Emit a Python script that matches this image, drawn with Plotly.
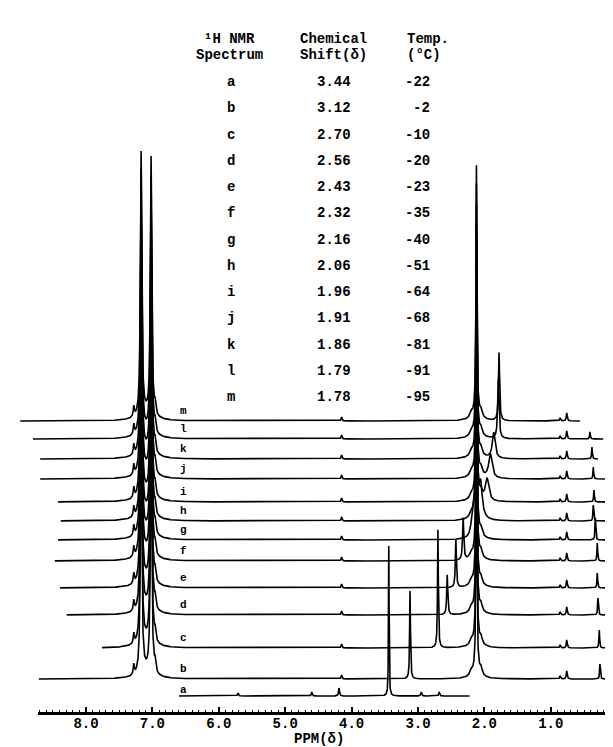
import numpy as np
import plotly.graph_objects as go

# ---------------- data ----------------
spectrum_labels = ['a', 'b', 'c', 'd', 'e', 'f', 'g', 'h', 'i', 'j', 'k', 'l', 'm']
chem_shift = [3.44, 3.12, 2.70, 2.56, 2.43, 2.32, 2.16, 2.06, 1.96, 1.91, 1.86, 1.79, 1.78]
temps_c = [-22, -2, -10, -20, -23, -35, -40, -51, -64, -68, -81, -91, -95]

# compound peak height (arbitrary units) and half width (ppm) per spectrum
shift_peak_height = [150, 88, 118, 40, 48, 42, 30, 28, 22, 24, 26, 60, 68]
shift_peak_hw = [0.005, 0.007, 0.007, 0.009, 0.009, 0.01, 0.02, 0.03, 0.03, 0.03, 0.025, 0.012, 0.01]

# recorded ppm window of each spectrum
ppm_start = [6.60, 8.71, 7.76, 8.29, 8.39, 8.47, 8.42, 8.38, 8.42, 8.69, 8.69, 8.80, 8.99]
ppm_end = [2.22, 0.15, -0.06, -0.06, -0.06, -0.06, -0.06, -0.06, -0.06, 0.18, 0.29, 0.21, 0.56]

# solvent lines (present in spectra b-m)
solvent_ppm = [7.28, 7.17, 7.02, 6.96, 7.10, 2.20, 2.12, 2.12, 2.05]
solvent_height = [10, 263, 258, 10, 7, 5, 246, 9, 6]
solvent_hw = [0.01, 0.012, 0.012, 0.012, 0.12, 0.02, 0.008, 0.07, 0.02]

# small impurity lines in spectra b-m
minor_ppm = [4.15, 0.86, 0.76]
minor_height = [4, 3, 8]
impurity_ppm = [0.0, 0.26, 0.27, 0.29, 0.30, 0.30, 0.33, 0.36, 0.35, 0.36, 0.38, 0.41, 0.40]
impurity_height = [0, 15, 18, 17, 15, 18, 22, 16, 12, 12, 12, 7, 0]

# extra small lines of spectrum a
a_minor_ppm = [5.71, 4.60, 4.19, 2.95, 2.68]
a_minor_height = [3, 4, 8, 4, 4]

# ---------------- styling / layout constants ----------------
W, H = 613, 747
AXIS_PX = 704                       # pixel row of the ppm axis
stack_offset = [16, 33, 64, 97, 124, 151, 172, 191, 210, 233, 253, 273, 291]   # vertical stacking
FONT = 'Liberation Mono'
PX_PER_PPM = 66.4
X_PPM8 = 78                         # pixel column of 8.0 ppm
AX_L, AX_R = 30, 598                # drawn extent of the ppm axis


def lorentz(x, x0, h, hw):
    return h / (1.0 + ((x - x0) / hw) ** 2)


fig = go.Figure()

for i, lab in enumerate(spectrum_labels):
    x = np.arange(ppm_start[i], ppm_end[i], -0.002)
    y = np.zeros_like(x)
    y += lorentz(x, chem_shift[i], shift_peak_height[i], shift_peak_hw[i])
    if lab == 'a':
        for p, h in zip(a_minor_ppm, a_minor_height):
            y += lorentz(x, p, h, 0.008)
    else:
        for p, h, w in zip(solvent_ppm, solvent_height, solvent_hw):
            y += lorentz(x, p, h, w)
        for p, h in zip(minor_ppm, minor_height):
            y += lorentz(x, p, h, 0.008)
        y += lorentz(x, impurity_ppm[i], impurity_height[i], 0.006)
    fig.add_trace(go.Scatter(x=x, y=y + stack_offset[i], mode='lines',
                             line=dict(color='black', width=1.6),
                             xaxis='x', yaxis='y', hoverinfo='skip'))

# empty trace so that the visible ppm axis is drawn
fig.add_trace(go.Scatter(x=[], y=[], xaxis='x2', yaxis='y', hoverinfo='skip'))

full_range = [8 + X_PPM8 / PX_PER_PPM, 8 - (W - X_PPM8) / PX_PER_PPM]
ax_range = [8 + (X_PPM8 - AX_L) / PX_PER_PPM, 8 - (AX_R - X_PPM8) / PX_PER_PPM]

fig.update_layout(
    width=W, height=H,
    margin=dict(l=0, r=0, t=0, b=H - AXIS_PX),
    paper_bgcolor='white', plot_bgcolor='rgba(0,0,0,0)', showlegend=False,
    xaxis=dict(domain=[0, 1], range=full_range, visible=False),
    xaxis2=dict(domain=[AX_L / W, AX_R / W], range=ax_range, anchor='y',
                showline=True, linecolor='black', linewidth=2.5,
                ticks='inside', ticklen=5, tickwidth=1.5, tickcolor='black',
                tick0=0, dtick=1, tickformat='.1f', ticklabelstandoff=-4,
                tickfont=dict(family=FONT, size=14, color='black', weight='bold'),
                showgrid=False, zeroline=False,
                minor=dict(ticks='inside', ticklen=2, dtick=0.1, tickcolor='black', tickwidth=1)),
    yaxis=dict(range=[0, AXIS_PX], visible=False, domain=[0, 1]),
)


def px(xp):
    return xp / W


def py(yp):
    return (AXIS_PX - yp) / AXIS_PX


def note(text, x, y, size=14, xanchor='center'):
    fig.add_annotation(text=text, x=px(x), y=py(y), xref='paper', yref='paper',
                       showarrow=False, xanchor=xanchor, yanchor='middle',
                       font=dict(family=FONT, size=size, color='black', weight='bold'))


# table header
note('¹H NMR', 221, 31)
note('Spectrum', 221, 47)
note('Chemical', 326, 31)
note('Shift(δ)', 326, 47)
note('Temp.', 397, 31, xanchor='left')
note('(°C)', 397, 47, xanchor='left')

row0, row_step = 74, 26.25
for i, lab in enumerate(spectrum_labels):
    yy = row0 + i * row_step
    note(lab, 223, yy)
    note(f'{chem_shift[i]:.2f}', 326, yy)
    note(f'{temps_c[i]}', 424, yy, xanchor='right')

# labels on the stacked traces
for i, lab in enumerate(spectrum_labels):
    gap = 6 if lab == 'a' else 10
    note(lab, 175, AXIS_PX - stack_offset[i] - gap, size=11)

note('PPM(δ)', 311, 731)

fig.write_html('out.html')
